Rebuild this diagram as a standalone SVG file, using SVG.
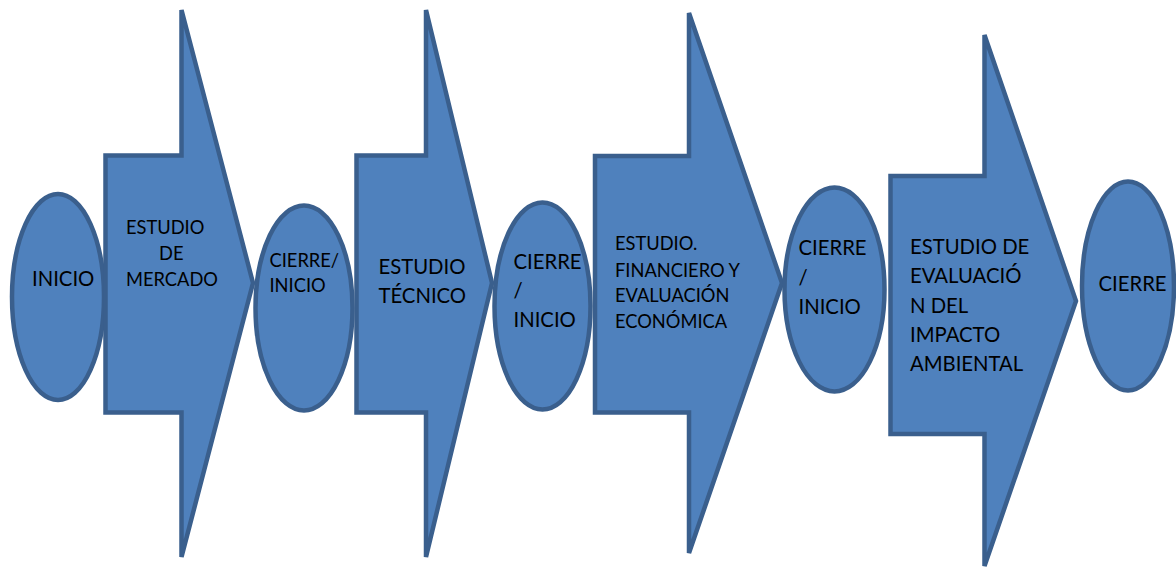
<svg xmlns="http://www.w3.org/2000/svg" width="1176" height="569" viewBox="0 0 1176 569">
<style>
.shape{fill:#4F81BD;stroke:#3A5F8D;stroke-width:4.5;stroke-linejoin:miter;stroke-miterlimit:4}
.t{font-family:Lato,"Open Sans","Liberation Sans",sans-serif;fill:#000}
.s{font-size:18.3px}
.l{font-size:20.3px}
</style>
<rect width="1176" height="569" fill="#fff"/>
<g id="connectors"></g>
<g id="n-inicio">
<ellipse class="shape" cx="58" cy="297" rx="46" ry="103"/>
<text class="t l" x="32" y="286">INICIO</text>
</g>
<g id="n-mercado">
<polygon class="shape" points="105.5,155.5 181.5,155.5 181.5,10 253,283 181.5,557 181.5,412.5 105.5,412.5"/>
<text class="t s" x="126" y="234">ESTUDIO</text>
<text class="t s" x="159" y="259.5">DE</text>
<text class="t s" x="126" y="286">MERCADO</text>
</g>
<g id="n-cierre1">
<ellipse class="shape" cx="304" cy="308" rx="48.5" ry="102.5"/>
<text class="t s" x="269.5" y="266.7">CIERRE/</text>
<text class="t s" x="269.5" y="291.7">INICIO</text>
</g>
<g id="n-tecnico">
<polygon class="shape" points="356.5,155.5 426,155.5 426,10 492,283 426,557 426,412.5 356.5,412.5"/>
<text class="t l" x="378.5" y="274">ESTUDIO</text>
<text class="t l" x="378.5" y="302.5">TÉCNICO</text>
</g>
<g id="n-cierre2">
<ellipse class="shape" cx="542.5" cy="306" rx="48" ry="103.5"/>
<text class="t l" x="513.5" y="269">CIERRE</text>
<text class="t l" x="513.5" y="298">/</text>
<text class="t l" x="513.5" y="327">INICIO</text>
</g>
<g id="n-financiero">
<polygon class="shape" points="595,156 689,156 689,13 782,283 689,553 689,412.5 595,412.5"/>
<text class="t s" x="615" y="250">ESTUDIO.</text>
<text class="t s" x="615" y="276.5">FINANCIERO Y</text>
<text class="t s" x="615" y="302">EVALUACIÓN</text>
<text class="t s" x="615" y="328">ECONÓMICA</text>
</g>
<g id="n-cierre3">
<ellipse class="shape" cx="834.5" cy="289.5" rx="50" ry="102"/>
<text class="t l" x="798.5" y="255">CIERRE</text>
<text class="t l" x="798.5" y="284.5">/</text>
<text class="t l" x="798.5" y="314">INICIO</text>
</g>
<g id="n-ambiental">
<polygon class="shape" points="890.5,176 984.5,176 984.5,35 1076,301 984.5,566 984.5,434 890.5,434"/>
<text class="t l" x="910" y="254">ESTUDIO DE</text>
<text class="t l" x="910" y="283.3">EVALUACIÓ</text>
<text class="t l" x="910" y="312.5">N DEL</text>
<text class="t l" x="910" y="341.8">IMPACTO</text>
<text class="t l" x="910" y="371">AMBIENTAL</text>
</g>
<g id="n-cierre-final">
<ellipse class="shape" cx="1128" cy="286" rx="46" ry="104.5"/>
<text class="t l" x="1098.5" y="291">CIERRE</text>
</g>
</svg>
